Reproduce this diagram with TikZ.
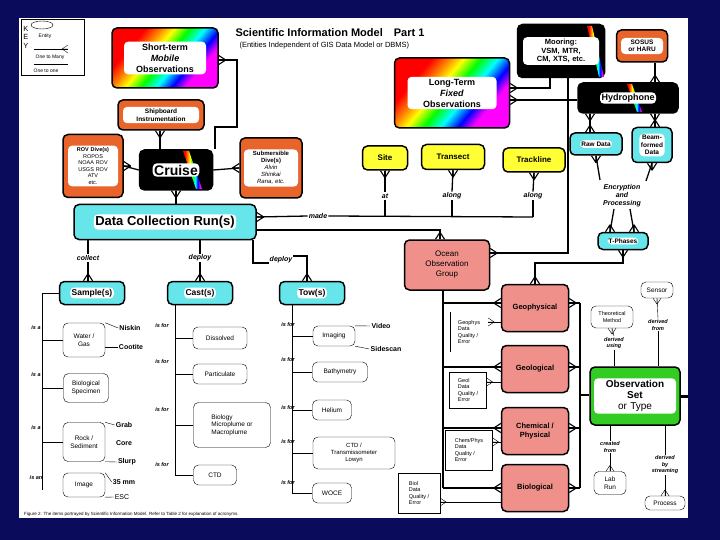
\documentclass[tikz,border=0pt]{standalone}
\usepackage{fontspec}
\setmainfont{Liberation Sans}
\begin{document}
\pgfdeclarehorizontalshading{rainbow}{100bp}{color(0bp)=(red);color(30bp)=(red);color(37bp)=(orange);color(43bp)=(yellow);color(50bp)=(green);color(57bp)=(cyan);color(64bp)=(blue);color(70bp)=(magenta);color(100bp)=(magenta)}
\definecolor{navy}{HTML}{0B0B5C}
\definecolor{orng}{HTML}{E8642A}
\definecolor{cyn}{HTML}{66E6EA}
\definecolor{yel}{HTML}{FFFF33}
\definecolor{pnk}{HTML}{F0908A}
\definecolor{grn}{HTML}{33CC22}
\begin{tikzpicture}[x=1pt,y=-1pt,
 box/.style={draw=black,line width=1.5pt,rounded corners=5pt,inner sep=0pt},
 inr/.style={fill=white,rounded corners=4pt,inner sep=2pt,align=center,font=\bfseries},
 wbox/.style={draw,thin,rounded corners=5pt,fill=white,align=center,font=\fontsize{6.5}{7.5}\selectfont,inner sep=2pt},
 qbox/.style={draw,thin,fill=white,align=left,font=\fontsize{5.5}{6.5}\selectfont,inner sep=2pt},
 lab/.style={font=\bfseries\itshape\fontsize{7}{8}\selectfont,align=center,inner sep=1pt},
 slab/.style={font=\bfseries\fontsize{7}{8}\selectfont,inner sep=1pt},
 ln/.style={line width=1.3pt},
 tl/.style={thin},
 crow/.pic={\draw[line width=1.1pt] (-7,0)--(0,4.5) (-7,0)--(0,-4.5) (-7,0)--(0,0);},
 tcrow/.pic={\draw[thin] (-6,0)--(0,4) (-6,0)--(0,-4) (-6,0)--(0,0);}]
\useasboundingbox (0,0) rectangle (720,540);
\fill[navy] (0,0) rectangle (720,540);
\fill[white] (19,18) rectangle (688,518);
% key
\node[draw,thin,minimum width=63,minimum height=56,inner sep=0] (key) at (53,47) {};
\node[font=\fontsize{7.5}{8.5}\selectfont,align=center,inner sep=0] (keyl) at (26,37) {K\\E\\Y};
\draw[thin] (42,25) ellipse (11 and 4);
\node[font=\fontsize{5}{5}\selectfont] (k1) at (45,36) {Entity};
\coordinate (k2a) at (34,49); \coordinate (k2b) at (68,49);
\draw[thin] (k2a)--(k2b); \pic at (k2b) {tcrow};
\node[font=\fontsize{5}{5}\selectfont] (k3) at (50,57) {One to Many};
\coordinate (k4a) at (34,65); \coordinate (k4b) at (68,65);
\draw[line width=1pt] (k4a)--(k4b);
\node[font=\fontsize{5}{5}\selectfont] (k5) at (46,71) {One to one};
% title
\node[font=\bfseries\fontsize{11}{12}\selectfont,anchor=west] (title) at (232,33) {Scientific Information Model\quad Part 1};
\node[font=\fontsize{7.5}{8}\selectfont,anchor=west] (sub) at (236,46) {(Entities Independent of GIS Data Model or DBMS)};
% rainbow boxes
\node[box,shading=rainbow,shading angle=-40,minimum width=106,minimum height=60] (st) at (165,58) {};
\node[inr,font=\bfseries\fontsize{9}{11}\selectfont,text width=78] at (st) {Short-term\\\textit{Mobile}\\Observations};
\node[box,shading=rainbow,shading angle=-40,minimum width=115,minimum height=70] (lt) at (452,93) {};
\node[inr,font=\bfseries\fontsize{9}{11}\selectfont,text width=85] at (lt) {Long-Term\\\textit{Fixed}\\Observations};
% orange
\node[box,fill=orng,minimum width=86,minimum height=30] (ship) at (161,115) {};
\node[inr,font=\bfseries\fontsize{6.5}{7.5}\selectfont,text width=72] at (ship) {Shipboard\\Instrumentation};
\node[box,fill=orng,minimum width=60,minimum height=63] (rov) at (93,166) {};
\node[inr,font=\fontsize{5.5}{6.5}\selectfont,text width=46] at (rov) {\textbf{ROV Dive(s)}\\ROPOS\\NOAA ROV\\USGS ROV\\ATV\\etc.};
\node[box,fill=orng,minimum width=62,minimum height=60] (subm) at (271,168) {};
\node[inr,font=\fontsize{6}{7}\selectfont,text width=50] at (subm) {\textbf{Submersible}\\\textbf{Dive(s)}\\\textit{Alvin}\\\textit{Shinkai}\\\textit{Rana, etc.}};
\node[box,fill=orng,minimum width=51,minimum height=32] (sosus) at (642,46) {};
\node[inr,font=\bfseries\fontsize{6.5}{7.5}\selectfont,text width=38] at (sosus) {SOSUS\\or HARU};
% black
\node[box,fill=black,minimum width=73,minimum height=40] (cruise) at (176,170) {};
\fill[shading=rainbow,shading angle=0] (183,151) -- (189,151) -- (202,189) -- (196,189) -- cycle;
\node[inr,font=\bfseries\fontsize{14}{15}\selectfont,inner sep=1.5pt] at (cruise) {Cruise};
\node[box,fill=black,minimum width=87,minimum height=53] (moor) at (561,51) {};
\fill[shading=rainbow,shading angle=0] (587,26) -- (592,26) -- (604,77) -- (599,77) -- cycle;
\node[inr,font=\bfseries\fontsize{7.5}{8.5}\selectfont,text width=72] at (moor) {Mooring:\\VSM, MTR,\\CM, XTS, etc.};
\node[box,fill=black,minimum width=100,minimum height=30] (hyd) at (628,98) {};
\fill[shading=rainbow,shading angle=0] (627,84) -- (632,84) -- (642,112) -- (637,112) -- cycle;
\node[inr,font=\bfseries\fontsize{9}{10}\selectfont,inner sep=1.5pt] at (hyd) {Hydrophone};
% cyan
\node[box,fill=cyn,minimum width=182,minimum height=35] (dcr) at (165,222) {};
\node[inr,font=\bfseries\fontsize{13}{14}\selectfont,inner sep=1.5pt] at (dcr) {Data Collection Run(s)};
\node[box,fill=cyn,minimum width=52,minimum height=22] (raw) at (596,144) {};
\node[inr,font=\bfseries\fontsize{6.5}{7}\selectfont,inner sep=1.5pt] at (raw) {Raw Data};
\node[box,fill=cyn,minimum width=40,minimum height=35] (beam) at (652,145) {};
\node[inr,font=\bfseries\fontsize{6.5}{7.5}\selectfont,inner sep=1.5pt] at (beam) {Beam-\\formed\\Data};
\node[box,fill=cyn,minimum width=50,minimum height=17] (tph) at (623,241) {};
\node[inr,font=\bfseries\fontsize{6.5}{7}\selectfont,inner sep=1pt] at (tph) {T-Phases};
\node[box,fill=cyn,minimum width=65,minimum height=23] (samp) at (92,293) {};
\node[inr,font=\bfseries\fontsize{8.5}{9}\selectfont,inner sep=1.5pt] at (samp) {Sample(s)};
\node[box,fill=cyn,minimum width=65,minimum height=23] (cast) at (200,293) {};
\node[inr,font=\bfseries\fontsize{8.5}{9}\selectfont,inner sep=1.5pt] at (cast) {Cast(s)};
\node[box,fill=cyn,minimum width=65,minimum height=23] (tow) at (312,293) {};
\node[inr,font=\bfseries\fontsize{8.5}{9}\selectfont,inner sep=1.5pt] at (tow) {Tow(s)};
% yellow
\node[box,fill=yel,minimum width=45,minimum height=24,font=\bfseries\fontsize{8}{9}\selectfont] (site) at (385,158) {Site};
\node[box,fill=yel,minimum width=63,minimum height=25,font=\bfseries\fontsize{8}{9}\selectfont] (tran) at (453,157) {Transect};
\node[box,fill=yel,minimum width=62,minimum height=24,font=\bfseries\fontsize{8}{9}\selectfont] (track) at (534,160) {Trackline};
% pink
\node[box,fill=pnk,minimum width=85,minimum height=50,align=center,font=\fontsize{8}{10}\selectfont] (oog) at (447,265) {Ocean\\Observation\\Group};
\node[box,fill=pnk,minimum width=67,minimum height=47,align=center,font=\bfseries\fontsize{7.5}{8.5}\selectfont] (geo) at (535,308) {Geophysical};
\node[box,fill=pnk,minimum width=67,minimum height=47,align=center,font=\bfseries\fontsize{7.5}{8.5}\selectfont] (geol) at (535,369) {Geological};
\node[box,fill=pnk,minimum width=67,minimum height=47,align=center,font=\bfseries\fontsize{7.5}{8.5}\selectfont] (chem) at (535,431) {Chemical /\\Physical};
\node[box,fill=pnk,minimum width=67,minimum height=47,align=center,font=\bfseries\fontsize{7.5}{8.5}\selectfont] (bio) at (535,488) {Biological};
% green
\node[box,fill=grn,minimum width=90,minimum height=58] (obs) at (635,396) {};
\node[inr,font=\bfseries\fontsize{10}{11}\selectfont,text width=78] at (obs) {Observation\\Set\\\mdseries or Type};
% labels
\node[lab] (made) at (318,216) {made};
\node[lab] (at) at (385,196) {at};
\node[lab] (al1) at (452,196) {along};
\node[lab] (al2) at (533,196) {along};
\node[lab] (encr) at (622,196) {Encryption\\and\\Processing};
\node[lab] (coll) at (88,258) {collect};
\node[lab] (dep1) at (200,258) {deploy};
\node[lab] (dep2) at (281,260) {deploy};
\node[lab,font=\bfseries\itshape\fontsize{5.5}{6.5}\selectfont] (dusing) at (614,343) {derived\\using};
\node[lab,font=\bfseries\itshape\fontsize{5.5}{6.5}\selectfont] (dfrom) at (658,325) {derived\\from};
\node[lab,font=\bfseries\itshape\fontsize{5.5}{6.5}\selectfont] (cfrom) at (610,447) {created\\from};
\node[lab,font=\bfseries\itshape\fontsize{5.5}{6.5}\selectfont] (dby) at (665,465) {derived\\by\\streaming};
% small right boxes
\node[wbox,minimum width=42,minimum height=22,font=\fontsize{5.5}{6.5}\selectfont] (theo) at (612,317) {Theoretical\\Method};
\node[wbox,minimum width=32,minimum height=16] (sens) at (657,290) {Sensor};
\node[wbox,minimum width=32,minimum height=23] (labr) at (610,483) {Lab\\Run};
\node[wbox,minimum width=40,minimum height=14] (proc) at (665,503) {Process};
% quality boxes
\node[align=left,font=\fontsize{5.5}{6.5}\selectfont,inner sep=2pt,minimum width=38,minimum height=40] (geoq) at (469,332) {Geophys\\Data\\Quality /\\Error};
\draw[thin] (geoq.north west)--(geoq.south west);
\node[qbox,minimum width=37,minimum height=36] (geolq) at (468,390) {Geol\\Data\\Quality /\\Error};
\node[qbox,minimum width=47,minimum height=40] (chemq) at (469,450) {Chem/Phys\\Data\\Quality /\\Error};
\node[qbox,minimum width=42,minimum height=40] (bioq) at (419,493) {Biol\\Data\\Quality /\\Error};
% left-bottom boxes
\node[wbox,minimum width=42,minimum height=34] (water) at (84,340) {Water /\\Gas};
\node[wbox,minimum width=45,minimum height=29] (bspec) at (86,388) {Biological\\Specimen};
\node[wbox,minimum width=42,minimum height=39] (rock) at (84,442) {Rock /\\Sediment};
\node[wbox,minimum width=42,minimum height=24] (img) at (84,485) {Image};
\node[slab] (nisk) at (130,328) {Niskin};
\node[slab] (coot) at (131,347) {Cootite};
\node[slab] (grab) at (124,425) {Grab};
\node[slab] (core) at (124,443) {Core};
\node[slab] (slurp) at (127,462) {Slurp};
\node[slab] (mm) at (124,482) {35 mm};
\node[slab,font=\fontsize{7}{8}\selectfont] (esc) at (122,497) {ESC};
\node[wbox,minimum width=54,minimum height=22] (diss) at (220,338) {Dissolved};
\node[wbox,minimum width=54,minimum height=20] (part) at (220,374) {Particulate};
\node[wbox,minimum width=77,minimum height=45,align=left] (biol) at (232,425) {Biology\\Microplume or\\Macroplume};
\node[wbox,minimum width=43,minimum height=20] (ctd) at (215,475) {CTD};
\node[wbox,minimum width=42,minimum height=20] (imag) at (334,336) {Imaging};
\node[slab] (video) at (381,326) {Video};
\node[slab] (side) at (386,349) {Sidescan};
\node[wbox,minimum width=55,minimum height=20] (bath) at (340,372) {Bathymetry};
\node[wbox,minimum width=39,minimum height=20] (hel) at (332,410) {Helium};
\node[wbox,minimum width=82,minimum height=32,font=\fontsize{6}{7}\selectfont] (ctdt) at (354,453) {CTD /\\Transmissometer\\Lowyn};
\node[wbox,minimum width=39,minimum height=20] (woce) at (332,493) {WOCE};
% is-labels
\foreach \y/\t in {328/is a,375/is a,428/is a,478/is an}{\node[lab,font=\bfseries\itshape\fontsize{5.5}{6}\selectfont] at (36,\y) {\t};}
\foreach \y in {326,362,410,465}{\node[lab,font=\bfseries\itshape\fontsize{5.5}{6}\selectfont] at (162,\y) {is for};}
\foreach \y in {325,360,408,442,483}{\node[lab,font=\bfseries\itshape\fontsize{5.5}{6}\selectfont] at (288,\y) {is for};}
\node[font=\fontsize{4.5}{5}\selectfont,anchor=west,inner sep=0] (foot) at (24,514) {Figure 2: The items portrayed by Scientific Information Model. Refer to Table 2 for explanation of acronyms.};
% ---- connectors ----
\draw[ln] (cruise.north -| 215,0) -- (215,127) -- (237,127) -- (237,60) -- (st.east |- 0,60); \pic[rotate=180] at (st.east |- 0,60) {crow};
\draw[ln] (ship.south -| 160,0) -- (cruise.north -| 160,0); \pic[rotate=90] at (ship.south -| 160,0) {crow};
\draw[ln] (rov.east) -- (cruise.west); \pic[rotate=180] at (rov.east) {crow};
\draw[ln] (subm.west) -- (cruise.west -| cruise.east); \pic at (subm.west) {crow};
\draw[ln] (cruise.south) -- (dcr.north -| cruise.south); \pic[rotate=90] at (cruise.south) {crow};
\draw[ln] (dcr.east |- 0,217) -- (made.west); \pic[rotate=180] at (dcr.east |- 0,217) {crow};
\draw[ln] (made.east) -- (533,217);
\foreach \b/\l in {site/at,tran/al1,track/al2}{
 \draw[ln] (\b.south) -- (\l.north); \pic[rotate=90] at (\b.south) {crow};
 \draw[ln] (\l.south) -- (\l.south |- 0,217);}
\draw[ln] (dcr.east |- 0,230) -- (440,230) -- (oog.north -| 440,0); \pic[rotate=270] at (oog.north -| 440,0) {crow};
\draw[ln] (moor.south -| 550,0) -- (550,88) -- (lt.east |- 0,88); \pic[rotate=180] at (lt.east |- 0,88) {crow};
\draw[ln] (hyd.west |- 0,100) -- (lt.east |- 0,100); \pic[rotate=180] at (lt.east |- 0,100) {crow};
\draw[ln] (moor.south -| 568,0) -- (568,253) -- (oog.east |- 0,253); \pic[rotate=180] at (oog.east |- 0,253) {crow};
\draw[ln] (sosus.south -| 655,0) -- (hyd.north -| 655,0); \pic[rotate=270] at (hyd.north -| 655,0) {crow};
\draw[ln] (hyd.south -| 590,0) -- (raw.north -| 590,0); \pic[rotate=90] at (hyd.south -| 590,0) {crow}; \pic[rotate=270] at (raw.north -| 590,0) {crow};
\draw[ln] (hyd.south -| 655,0) -- (beam.north -| 655,0); \pic[rotate=90] at (hyd.south -| 655,0) {crow}; \pic[rotate=270] at (beam.north -| 655,0) {crow};
\draw[ln] (raw.south) -- (600,180); \pic[rotate=90] at (raw.south) {crow};
\draw[ln] (beam.south) -- (646,181); \pic[rotate=90] at (beam.south) {crow};
\draw[ln] (614,209) -- (tph.north -| 610,0); \pic[rotate=270] at (tph.north -| 610,0) {crow};
\draw[ln] (630,209) -- (tph.north -| 634,0); \pic[rotate=270] at (tph.north -| 634,0) {crow};
\draw[ln] (tph.south) -- (623,263) -- (535,263) -- (geo.north); \pic[rotate=90] at (tph.south) {crow}; \pic[rotate=270] at (geo.north) {crow};
\draw[ln] (oog.south -| 443,0) -- (443,488);
\foreach \n/\y in {geo/303,geol/367,chem/428,bio/488}{
 \draw[ln] (443,\y) -- (\n.west |- 0,\y); \pic at (\n.west |- 0,\y) {crow};
 \draw[ln] (\n.east |- 0,\y) -- (580,\y); \pic[rotate=180] at (\n.east |- 0,\y) {crow};}
\draw[ln] (580,303) -- (580,488);
\draw[ln] (580,395) -- (obs.west |- 0,395);
\draw[line width=3pt] (obs.east |- 0,396) -- (688,396);
\foreach \q/\n/\y in {geoq/geo/322,geolq/geol/382,chemq/chem/442,bioq/bio/502}{
 \draw[tl] (\q.east |- 0,\y) -- (\n.west |- 0,\y); \pic[rotate=180] at (\q.east |- 0,\y) {tcrow};}
\draw[tl] (theo.south) -- (dusing.north); \pic[rotate=90] at (theo.south) {tcrow};
\draw[tl] (dusing.south) -- (obs.north -| dusing.south);
\draw[tl] (sens.south) -- (dfrom.north); \pic[rotate=90] at (sens.south) {tcrow};
\draw[tl] (dfrom.south) -- (obs.north -| dfrom.south);
\draw[tl] (obs.south -| cfrom.north) -- (cfrom.north);
\draw[tl] (cfrom.south) -- (labr.north); \pic[rotate=270] at (labr.north) {tcrow};
\draw[tl] (obs.south -| dby.north) -- (dby.north);
\draw[tl] (dby.south) -- (proc.north); \pic[rotate=270] at (proc.north) {tcrow};
% left bottom connectors
\draw[ln] (dcr.south -| coll.north) -- (coll.north); \draw[ln] (coll.south) -- (samp.north -| coll.south); \pic[rotate=270] at (samp.north -| coll.south) {crow};
\draw[ln] (dcr.south -| dep1.north) -- (dep1.north); \draw[ln] (dep1.south) -- (cast.north -| dep1.south); \pic[rotate=270] at (cast.north -| dep1.south) {crow};
\draw[ln] (dcr.south -| 253,0) -- (253,263) -- (dep2.west |- 0,263);
\draw[ln] (dep2.east |- 0,256) -- (307,256) -- (tow.north -| 307,0); \pic[rotate=270] at (tow.north -| 307,0) {crow};
\draw[tl] (samp.west) -- (42,293) -- (42,490);
\foreach \n in {water,bspec,rock}{\draw[tl] (42,0 |- \n.west) -- (\n.west);}
\draw[tl] (water.north east) -- (nisk.west); \draw[tl] (water.east |- coot.west) -- (coot.west);
\draw[tl] (rock.north east) -- (grab.west); \draw[tl] (rock.south east) -- (slurp.west);
\draw[tl] (img.north east) -- (mm.west); \draw[tl] (img.south east) -- (esc.west);
\draw[tl] (cast.south -| 175,0) -- (175,475) -- (ctd.west);
\foreach \n in {diss,part,biol}{\draw[tl] (175,0 |- \n.west) -- (\n.west);}
\draw[tl] (tow.south -| 292,0) -- (292,493) -- (woce.west);
\foreach \n in {imag,bath,hel,ctdt}{\draw[tl] (292,0 |- \n.west) -- (\n.west);}
\draw[tl] (imag.north east) -- (video.west); \draw[tl] (imag.south east) -- (side.west);
\end{tikzpicture}
\end{document}
